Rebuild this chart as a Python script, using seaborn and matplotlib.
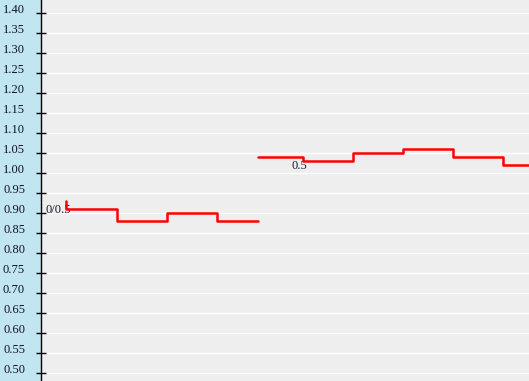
import matplotlib
matplotlib.use("Agg")
import matplotlib.pyplot as plt
import seaborn as sns
import pandas as pd
import numpy as np

# Data
seg1_x = [0.50, 0.50, 1.52, 2.52, 3.52, 4.33]
seg1_y = [0.93, 0.91, 0.88, 0.90, 0.88, 0.88]
seg2_x = [4.34, 5.24, 6.24, 7.24, 8.24, 9.24, 9.90]
seg2_y = [1.04, 1.03, 1.05, 1.06, 1.04, 1.02, 1.02]
y_ticks = [round(0.50 + 0.05 * i, 2) for i in range(19)]
labels_text = ["0/0.5", "0.5"]
labels_x = [0.10, 5.00]
labels_y = [0.9075, 1.0165]

df = pd.DataFrame({
    "x": seg1_x + seg2_x,
    "y": seg1_y + seg2_y,
    "seg": ["a"] * len(seg1_x) + ["b"] * len(seg2_x),
})

sns.set_theme(style="white")
plt.rcParams["font.family"] = ["Liberation Serif", "DejaVu Serif"]

W, H = 529, 381
fig = plt.figure(figsize=(W / 100, H / 100), dpi=100)
fig.patch.set_facecolor("#c2e6f1")
ax = fig.add_axes([41 / W, 0, 1 - 41 / W, 1])
ax.set_facecolor("#eeeeee")

sns.lineplot(data=df, x="x", y="y", hue="seg", palette=["#ff0000", "#ff0000"],
             estimator=None, sort=False, legend=False, drawstyle="steps-post",
             linewidth=1.8, ax=ax, zorder=3)

for t, xx, yy in zip(labels_text, labels_x, labels_y):
    ax.text(xx, yy, t, ha="left", va="center", fontsize=9, color="#1a1a2a", zorder=2)

ax.set_xlim(0, 9.76)
ax.set_ylim(0.50 - 8 / 400, 1.40 + 13 / 400)
ax.set_yticks(y_ticks)
ax.set_yticklabels([f"{v:.2f}" for v in y_ticks])
ax.set_xticks([])
ax.yaxis.grid(True, color="white", linewidth=1.0)
ax.set_axisbelow(True)
for s in ["top", "right", "bottom"]:
    ax.spines[s].set_visible(False)
ax.spines["left"].set_color("black")
ax.spines["left"].set_linewidth(1.0)
ax.tick_params(axis="y", direction="inout", length=7, width=1, color="black",
               pad=8.0, labelsize=9, labelcolor="#10102a", left=True)
for lab in ax.get_yticklabels():
    lab.set_verticalalignment("baseline")
ax.set_xlabel("")
ax.set_ylabel("")

fig.savefig("out.png", dpi=100, facecolor=fig.get_facecolor())
